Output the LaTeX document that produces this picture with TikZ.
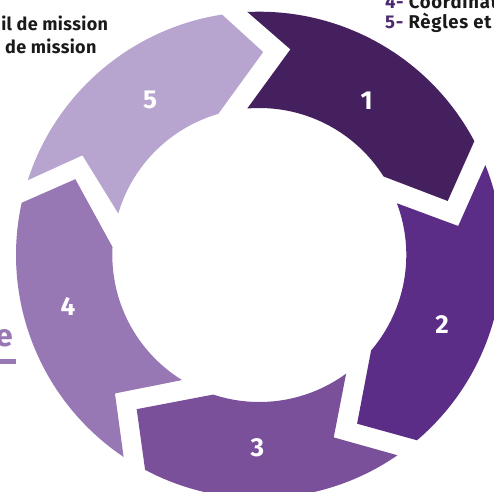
\documentclass[tikz,border=0pt]{standalone}
\usepackage{fontspec}
\setmainfont{Fira Sans}
\definecolor{segA}{HTML}{45205F}
\definecolor{segB}{HTML}{5C2D87}
\definecolor{segC}{HTML}{7A509B}
\definecolor{segD}{HTML}{9778B4}
\definecolor{segE}{HTML}{B7A5D0}
\definecolor{numpurple}{HTML}{4B2A73}
\definecolor{txtdark}{HTML}{1A1A1A}
\tikzset{
  segnum/.style={text=white, font=\bfseries\fontsize{26}{26}\selectfont, inner sep=0pt},
  sidetext/.style={text=txtdark, font=\bfseries\fontsize{18}{20}\selectfont\addfontfeatures{LetterSpace=2}, inner sep=0pt},
  righttext/.style={text=txtdark, font=\bfseries\fontsize{18.5}{20}\selectfont\addfontfeatures{LetterSpace=4}, inner sep=0pt}
}
\begin{document}
\begin{tikzpicture}[x=1pt,y=1pt]
\useasboundingbox (0,0) rectangle (494,491);
\begin{scope}
\clip (0,0) rectangle (494,491);
\begin{scope}[shift={(259.3,236)}]
\foreach \to/\tn/\rn/\ti/\ho/\hp/\rp/\hi/\col in {
  92.8/81.4/208/94.7/27.9/16.0/196/32.3/segA,
  21.7/8.3/201/20.6/-49.6/-59.9/195/-40.5/segB,
  -55.4/-67.8/197/-53.8/-118/-128.5/197/-108.3/segC,
  -123.9/-136.2/200/-121.7/-192.4/-202.4/199/-183.1/segD,
  162.1/150.6/203/163.6/98.8/88.9/203/106.2/segE}
{
  \fill[\col] (\to:243.3pt) arc[start angle=\to, end angle=\ho, radius=243.3pt]
    -- (\hp:\rp pt) -- (\hi:147pt)
    arc[start angle=\hi, end angle=\ti, radius=147pt]
    -- (\tn:\rn pt) -- cycle;
}
\end{scope}
\node[segnum] (n1) at (366.7,390.3) {1};
\node[segnum] (n2) at (442,166) {2};
\node[segnum] (n3) at (257.5,43) {3};
\node[segnum] (n4) at (68,184.5) {4};
\node[segnum] (n5) at (150,391) {5};
\node[sidetext, anchor=base east] (tl1) at (108.3,460.5) {il de mission};
\node[sidetext, anchor=base east] (tl2) at (96.7,437.7) {de mission};
\node[righttext, anchor=base west] (tr1) at (385,482.7) {\textcolor{numpurple}{4-} Coordination};
\node[righttext, anchor=base west] (tr2) at (385,462.7) {\textcolor{numpurple}{5-} Règles et};
\node[text=segD, font=\bfseries\fontsize{31}{31}\selectfont, inner sep=0pt, anchor=base east] (ee) at (13,144.5) {e};
\fill[segD] (0,127.5) rectangle (16,132.5);
\end{scope}
\end{tikzpicture}
\end{document}
